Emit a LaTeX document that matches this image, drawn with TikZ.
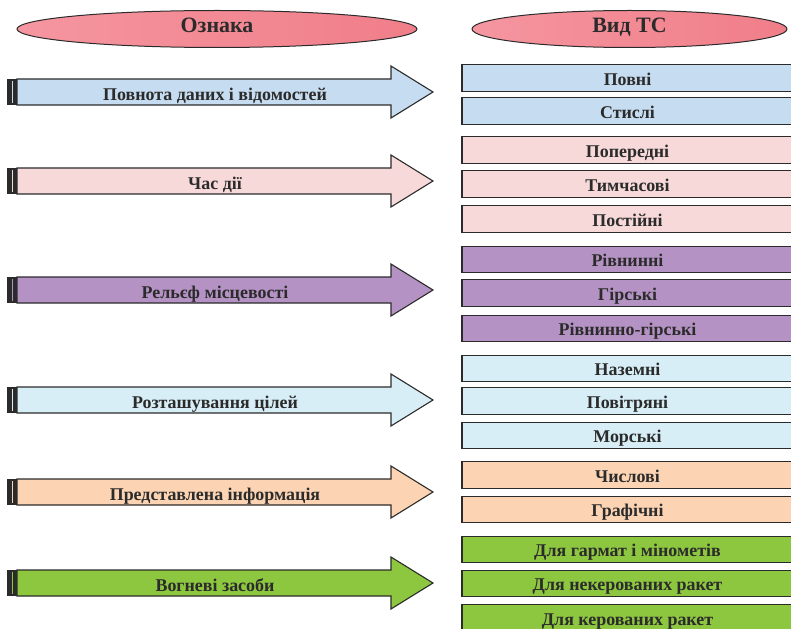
\documentclass[tikz,border=0pt]{standalone}
\usepackage{fontspec}
\setmainfont{Liberation Serif}
\usetikzlibrary{shapes.geometric}

\definecolor{ovalred}{HTML}{F07E89}
\definecolor{ovallight}{HTML}{F596A0}
\definecolor{cblue}{HTML}{C6DCF0}
\definecolor{cpink}{HTML}{F8D9DA}
\definecolor{cviolet}{HTML}{B592C4}
\definecolor{ccyan}{HTML}{D7EEF6}
\definecolor{cpeach}{HTML}{FCD4B4}
\definecolor{cgreen}{HTML}{8DC63F}
\definecolor{ink}{HTML}{2B2B2B}

\begin{document}
\begin{tikzpicture}[x=1bp,y=-1bp,
  oval/.style={ellipse, draw=ink, line width=1bp, left color=ovallight, right color=ovalred,
    minimum height=37bp, inner sep=0pt, text=ink, text height=0.66em, text depth=0pt,
    font=\bfseries\fontsize{22}{24}\selectfont},
  shaft/.style={draw=ink, line width=1.1bp, line join=miter},
  label/.style={text=ink, inner sep=0pt, text height=14.4bp, text depth=0pt,
    font=\bfseries\fontsize{18}{20}\selectfont},
  vid/.style={draw=ink, line width=1.3bp, minimum width=331bp, minimum height=26.5bp,
    inner sep=0pt, text=ink, text height=14.4bp, text depth=0pt,
    font=\bfseries\fontsize{18}{20}\selectfont}]
  \useasboundingbox (0,0) rectangle (791,629);

  % headers
  \node[oval, minimum width=400bp] (oznaka) at (217,29) {Ознака};
  \node[oval, minimum width=315bp] (vydts) at (629.5,29) {Вид ТС};

  % arrows
  \filldraw[shaft, fill=cblue] (17,79) -- (391,79) -- (391,66) -- (433,92) -- (391,118) -- (391,105) -- (17,105) -- cycle;
  \fill[ink] (7,79) rectangle (17,105);
  \draw[cblue, line width=1bp] (12.5,81) -- (12.5,103);
  \node[label] (povnota) at (215,93) {Повнота даних і відомостей};

  \filldraw[shaft, fill=cpink] (17,168) -- (391,168) -- (391,155) -- (433,181) -- (391,207) -- (391,194) -- (17,194) -- cycle;
  \fill[ink] (7,168) rectangle (17,194);
  \draw[cpink, line width=1bp] (12.5,170) -- (12.5,192);
  \node[label] (chas) at (215,182) {Час дії};

  \filldraw[shaft, fill=cviolet] (17,277) -- (391,277) -- (391,264) -- (433,290) -- (391,316) -- (391,303) -- (17,303) -- cycle;
  \fill[ink] (7,277) rectangle (17,303);
  \draw[cviolet, line width=1bp] (12.5,279) -- (12.5,301);
  \node[label] (relief) at (215,291) {Рельєф місцевості};

  \filldraw[shaft, fill=ccyan] (17,387) -- (391,387) -- (391,374) -- (433,400) -- (391,426) -- (391,413) -- (17,413) -- cycle;
  \fill[ink] (7,387) rectangle (17,413);
  \draw[ccyan, line width=1bp] (12.5,389) -- (12.5,411);
  \node[label] (tsili) at (215,401) {Розташування цілей};

  \filldraw[shaft, fill=cpeach] (17,479) -- (391,479) -- (391,466) -- (433,492) -- (391,518) -- (391,505) -- (17,505) -- cycle;
  \fill[ink] (7,479) rectangle (17,505);
  \draw[cpeach, line width=1bp] (12.5,481) -- (12.5,503);
  \node[label] (info) at (215,493) {Представлена інформація};

  \filldraw[shaft, fill=cgreen] (17,570) -- (391,570) -- (391,557) -- (433,583) -- (391,609) -- (391,596) -- (17,596) -- cycle;
  \fill[ink] (7,570) rectangle (17,596);
  \draw[cgreen, line width=1bp] (12.5,572) -- (12.5,594);
  \node[label] (vohnevi) at (215,584) {Вогневі засоби};

  % kinds
  \node[vid, fill=cblue] (povni) at (627.5,78) {Повні};
  \node[vid, fill=cblue] (stysli) at (627.5,111) {Стислі};

  \node[vid, fill=cpink] (poperedni) at (627.5,150) {Попередні};
  \node[vid, fill=cpink] (tymchasovi) at (627.5,184) {Тимчасові};
  \node[vid, fill=cpink] (postiini) at (627.5,219) {Постійні};

  \node[vid, fill=cviolet] (rivnynni) at (627.5,259.5) {Рівнинні};
  \node[vid, fill=cviolet] (hirski) at (627.5,293) {Гірські};
  \node[vid, fill=cviolet] (rivhir) at (627.5,328.5) {Рівнинно-гірські};

  \node[vid, fill=ccyan] (nazemni) at (627.5,368.5) {Наземні};
  \node[vid, fill=ccyan] (povitriani) at (627.5,401) {Повітряні};
  \node[vid, fill=ccyan] (morski) at (627.5,435.5) {Морські};

  \node[vid, fill=cpeach] (chyslovi) at (627.5,475) {Числові};
  \node[vid, fill=cpeach] (hrafichni) at (627.5,509.5) {Графічні};

  \node[vid, fill=cgreen] (harmaty) at (627.5,549.5) {Для гармат і мінометів};
  \node[vid, fill=cgreen] (nekerovani) at (627.5,583.5) {Для некерованих ракет};
  \node[vid, fill=cgreen] (kerovani) at (627.5,618) {Для керованих ракет};
\end{tikzpicture}
\end{document}
